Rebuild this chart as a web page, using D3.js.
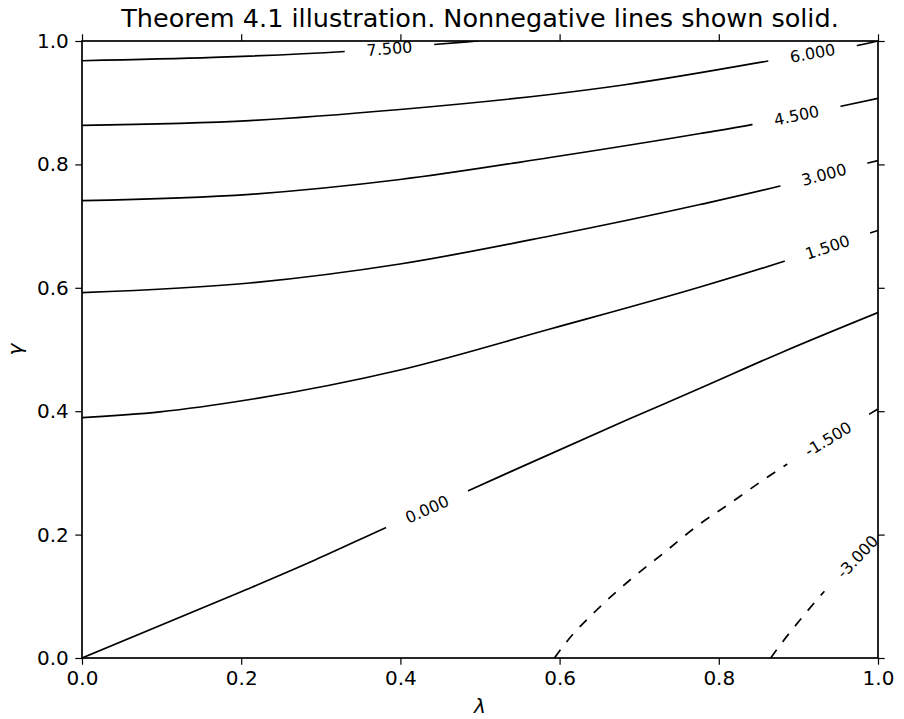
<!DOCTYPE html>
<html>
<head>
<meta charset="utf-8">
<script src="https://cdn.jsdelivr.net/npm/d3@7"></script>
<style>
body { margin: 0; background: #fff; }
text { font-family: "DejaVu Sans", sans-serif; fill: #000; }
</style>
</head>
<body>
<svg id="chart" width="904" height="719"></svg>
<script>
// contour levels and the lines, as [lambda, gamma]
const levels = [-3.0, -1.5, 0.0, 1.5, 3.0, 4.5, 6.0, 7.5];
const line_m30 = [[0.8652, 0], [0.8803, 0.0265], [0.902, 0.0616], [0.923, 0.094], [0.974, 0.1642], [1.0, 0.1987]];
const line_m15 = [[0.5935, 0], [0.6089, 0.0264], [0.6466, 0.0778], [0.6884, 0.1264], [0.7303, 0.1697], [0.7722, 0.2134],
    [0.8141, 0.2507], [0.8559, 0.2885], [0.881, 0.3101], [0.9372, 0.3549], [1.0, 0.4036]];
const line_00 = [[0, 0], [0.1985, 0.1065], [0.2927, 0.1588], [0.3815, 0.2112], [0.4334, 0.2412], [0.4853, 0.2712],
    [0.6843, 0.3857], [0.7764, 0.4371], [0.881, 0.4965], [1.0, 0.560]];
const line_15 = [[0, 0.3895], [0.098, 0.3990], [0.211, 0.4190], [0.3995, 0.4668], [0.588, 0.5332], [0.7764, 0.6013],
    [0.8832, 0.6434], [0.9365, 0.6661], [0.9899, 0.6888], [1.0, 0.6929]];
const line_30 = [[0, 0.5921], [0.211, 0.6078], [0.3995, 0.6386], [0.588, 0.6840], [0.7764, 0.7350], [0.877, 0.7650],
    [0.932, 0.7836], [0.9874, 0.8023], [1.0, 0.8063]];
const line_45 = [[0, 0.7412], [0.211, 0.7515], [0.3995, 0.7755], [0.588, 0.8112], [0.7764, 0.8501], [0.843, 0.8650],
    [0.8976, 0.8794], [0.952, 0.8938], [1.0, 0.9071]];
const line_60 = [[0, 0.8634], [0.211, 0.8711], [0.3995, 0.8890], [0.588, 0.9133], [0.680, 0.9287], [0.862, 0.9676],
    [0.9177, 0.9805], [0.974, 0.9927], [1.0, 1.0]];
const line_75 = [[0, 0.968], [0.165, 0.9733], [0.330, 0.9830], [0.3863, 0.9878], [0.442, 0.9943], [0.484, 0.9987], [0.498, 1.0]];
const contour_lines = [line_m30, line_m15, line_00, line_15, line_30, line_45, line_60, line_75];

// inline label centres, one per level
const label_x = [0.974, 0.9372, 0.4334, 0.9365, 0.932, 0.8976, 0.9177, 0.3863];
const label_y = [0.1642, 0.3549, 0.2412, 0.6661, 0.7836, 0.8794, 0.9805, 0.9878];

const x_ticks = [0.0, 0.2, 0.4, 0.6, 0.8, 1.0];
const y_ticks = [0.0, 0.2, 0.4, 0.6, 0.8, 1.0];
const title_text = "Theorem 4.1 illustration. Nonnegative lines shown solid.";

const svg = d3.select("#chart");
const margin = { left: 82, top: 41, right: 26, bottom: 61 };
const W = 904 - margin.left - margin.right;
const H = 719 - margin.top - margin.bottom;

const x = d3.scaleLinear().domain([0, 1]).range([0, W]);
const y = d3.scaleLinear().domain([0, 1]).range([H, 0]);

const g = svg.append("g").attr("transform", `translate(${margin.left},${margin.top})`);

const fmt = d3.formatLocale({ decimal: ".", thousands: ",", grouping: [3], currency: ["", ""], minus: "-" }).format(".3f");

// clip to plot area
const defs = svg.append("defs");
defs.append("clipPath").attr("id", "plotclip")
    .append("rect").attr("width", W).attr("height", H);

// interpolate gamma at a given lambda along a polyline
function interpY(pts, lx) {
    lx = Math.max(pts[0][0], Math.min(pts[pts.length - 1][0], lx));
    for (let i = 1; i < pts.length; i++) {
        if (lx <= pts[i][0]) {
            const t = (lx - pts[i - 1][0]) / (pts[i][0] - pts[i - 1][0]);
            return [lx, pts[i - 1][1] + t * (pts[i][1] - pts[i - 1][1])];
        }
    }
    return pts[pts.length - 1];
}

// labels first, so that their width can cut the gaps
const labels = g.append("g").attr("class", "clabels");
const gaps = [];
for (let i = 0; i < levels.length; i++) {
    const pts = contour_lines[i];
    const a = interpY(pts, label_x[i] - 0.03);
    const b = interpY(pts, label_x[i] + 0.03);
    const ang = Math.atan2(y(b[1]) - y(a[1]), x(b[0]) - x(a[0])) * 180 / Math.PI;
    const cx = x(label_x[i]), cy = y(label_y[i]);
    const t = labels.append("text")
        .attr("transform", `translate(${cx},${cy}) rotate(${ang})`)
        .attr("text-anchor", "middle")
        .attr("dy", "0.36em")
        .style("font-size", "16px")
        .text(fmt(levels[i]));
    const len = t.node().getComputedTextLength();
    gaps.push({ cx: cx, cy: cy, ang: ang, w: len + 44 });
}

const mask = defs.append("mask").attr("id", "labelgaps")
    .attr("maskUnits", "userSpaceOnUse")
    .attr("x", -20).attr("y", -20).attr("width", W + 40).attr("height", H + 40);
mask.append("rect").attr("x", -20).attr("y", -20).attr("width", W + 40).attr("height", H + 40).attr("fill", "#fff");
mask.selectAll("rect.gap").data(gaps).enter().append("rect")
    .attr("class", "gap")
    .attr("x", d => -d.w / 2).attr("y", -12)
    .attr("width", d => d.w).attr("height", 24)
    .attr("transform", d => `translate(${d.cx},${d.cy}) rotate(${d.ang})`)
    .attr("fill", "#000");

const lineGen = d3.line()
    .x(d => x(d[0]))
    .y(d => y(d[1]))
    .curve(d3.curveMonotoneX);

const cg = g.append("g").attr("clip-path", "url(#plotclip)")
    .append("g").attr("mask", "url(#labelgaps)");
cg.selectAll("path").data(contour_lines).enter().append("path")
    .attr("d", d => lineGen(d))
    .attr("fill", "none")
    .attr("stroke", "#000")
    .attr("stroke-width", 1.7)
    .attr("stroke-dasharray", (d, i) => levels[i] < 0 ? "10,10" : null);

// frame
g.append("rect").attr("width", W).attr("height", H)
    .attr("fill", "none").attr("stroke", "#000").attr("stroke-width", 1.7);

// axes, ticks outward on all sides
const tickLen = 6.7;
const xAxis = g.append("g").attr("transform", `translate(0,${H})`)
    .call(d3.axisBottom(x).tickValues(x_ticks).tickFormat(d3.format(".1f")).tickSize(tickLen).tickPadding(6.5));
const yAxis = g.append("g")
    .call(d3.axisLeft(y).tickValues(y_ticks).tickFormat(d3.format(".1f")).tickSize(tickLen).tickPadding(6.5));
const xTop = g.append("g")
    .call(d3.axisTop(x).tickValues(x_ticks).tickFormat("").tickSize(tickLen));
const yRight = g.append("g").attr("transform", `translate(${W},0)`)
    .call(d3.axisRight(y).tickValues(y_ticks).tickFormat("").tickSize(tickLen));

[xAxis, yAxis, xTop, yRight].forEach(a => {
    a.select(".domain").remove();
    a.selectAll("line").attr("stroke", "#000").attr("stroke-width", 1.2);
    a.selectAll("text").style("font-size", "20px").style("font-family", "DejaVu Sans").attr("fill", "#000");
});

// title and axis labels
svg.append("text")
    .attr("x", margin.left + W / 2).attr("y", 27)
    .attr("text-anchor", "middle")
    .style("font-size", "25.5px")
    .text(title_text);

svg.append("text")
    .attr("x", margin.left + W / 2).attr("y", 713)
    .attr("text-anchor", "middle")
    .style("font-size", "20px").style("font-style", "italic")
    .text("λ");

svg.append("text")
    .attr("transform", `translate(22,${margin.top + H / 2}) rotate(-90)`)
    .attr("text-anchor", "middle")
    .style("font-size", "20px").style("font-style", "italic")
    .text("γ");
</script>
</body>
</html>
